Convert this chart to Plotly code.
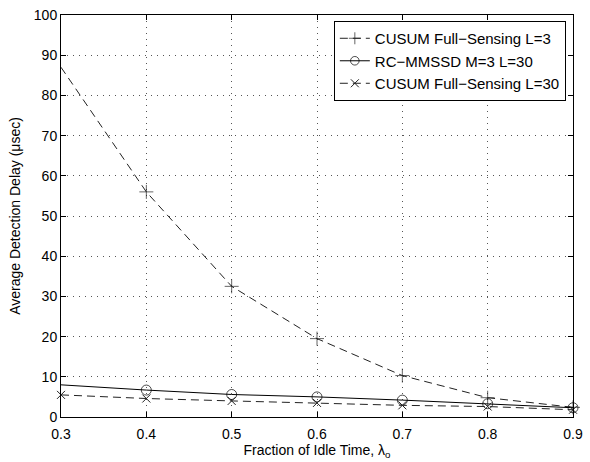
import plotly.graph_objects as go

x_vals = [0.3, 0.4, 0.5, 0.6, 0.7, 0.8, 0.9]
cusum_l3 = [87.0, 56.0, 32.5, 19.5, 10.3, 4.8, 2.4]
rc_mmssd = [8.0, 6.7, 5.6, 5.0, 4.2, 3.3, 2.3]
cusum_l30 = [5.5, 4.6, 4.0, 3.5, 2.9, 2.6, 1.8]
names = ["CUSUM Full\u2212Sensing L=3", "RC\u2212MMSSD M=3 L=30", "CUSUM Full\u2212Sensing L=30"]
x_ticks = [0.3, 0.4, 0.5, 0.6, 0.7, 0.8, 0.9]
y_ticks = [0, 10, 20, 30, 40, 50, 60, 70, 80, 90, 100]

FONT = "Liberation Sans, Arial, Helvetica, sans-serif"
DASH = "8px,5px"

fig = go.Figure()
fig.add_trace(go.Scatter(
    x=x_vals, y=cusum_l3, name=names[0], mode="lines+markers",
    line=dict(color="#222", width=1, dash=DASH),
    marker=dict(symbol="cross-thin-open", size=[0, 10, 10, 10, 10, 10, 10],
                line=dict(color="#222", width=1)),
    cliponaxis=False,
))
fig.add_trace(go.Scatter(
    x=x_vals, y=rc_mmssd, name=names[1], mode="lines+markers",
    line=dict(color="black", width=1),
    marker=dict(symbol="circle-open", size=[0, 10, 10, 10, 10, 10, 10],
                line=dict(color="black", width=1)),
    cliponaxis=False,
))
fig.add_trace(go.Scatter(
    x=x_vals, y=cusum_l30, name=names[2], mode="lines+markers",
    line=dict(color="#222", width=1, dash=DASH),
    marker=dict(symbol="x-thin-open", size=8, line=dict(color="#222", width=1)),
    cliponaxis=False,
))

axis_common = dict(
    showline=True, linecolor="black", linewidth=1, mirror="all",
    ticks="inside", ticklen=5, tickcolor="black",
    showgrid=True, gridcolor="#555", griddash="1px,5px", gridwidth=1,
    zeroline=False, tickfont=dict(size=14, color="black", family=FONT),
    ticklabeloverflow="allow",
)

fig.update_layout(
    width=590, height=462,
    margin=dict(l=61, r=9, t=7, b=45),
    paper_bgcolor="white", plot_bgcolor="white",
    font=dict(family=FONT, color="black"),
    xaxis=dict(range=[0.3, 0.9], tickvals=x_ticks, ticktext=[f"{v:.1f}" for v in x_ticks],
               title=dict(text="Fraction of Idle Time, \u03bb<sub>o</sub>", font=dict(size=14), standoff=0),
               ticklabelstandoff=4,
               **axis_common),
    yaxis=dict(range=[0, 100], tickvals=y_ticks,
               title=dict(text="Average Detection Delay (\u03bcsec)", font=dict(size=14), standoff=9),
               **axis_common),
    legend=dict(x=0.986, y=0.985, xanchor="right", yanchor="top",
                bordercolor="black", borderwidth=1, bgcolor="white",
                font=dict(size=15, family=FONT), tracegroupgap=0, itemwidth=30),
    showlegend=True,
)

fig.write_html("out.html")
